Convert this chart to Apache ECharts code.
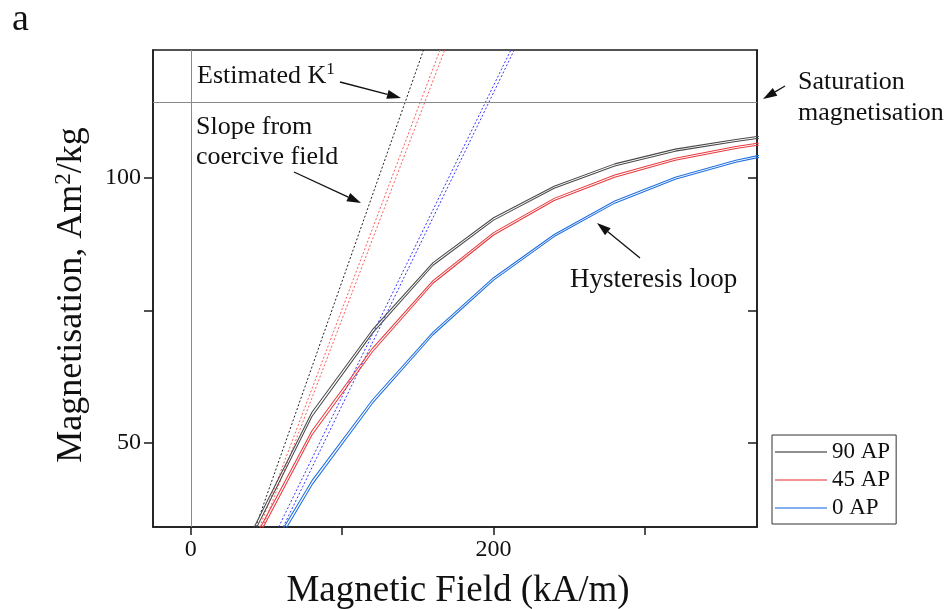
<!DOCTYPE html>
<html>
<head>
<meta charset="utf-8">
<script src="https://cdn.jsdelivr.net/npm/echarts@6/dist/echarts.min.js"></script>
<style>
  html, body { margin: 0; padding: 0; background: #fff; }
  #chart { width: 950px; height: 609px; }
</style>
</head>
<body>
<div id="chart"></div>
<script>
// Applied field (kA/m) at which the loop branches were sampled
const field = [40, 80, 120, 160, 200, 240, 280, 320, 360, 400];

// Magnetisation (Am^2/kg), two branches per sample orientation
const ap90Lower = [32.1, 55.0, 70.7, 83.5, 92.0, 98.0, 102.2, 105.0, 106.8, 108.4];
const ap90Upper = [33.1, 55.8, 71.35, 84.0, 92.45, 98.4, 102.6, 105.38, 107.18, 108.78];
const ap45Lower = [29.9, 51.5, 67.2, 80.1, 89.2, 95.7, 100.1, 103.3, 105.5, 107.2];
const ap45Upper = [30.9, 52.3, 67.85, 80.6, 89.65, 96.1, 100.5, 103.68, 105.88, 107.58];
const ap0Lower  = [22.9, 42.1, 57.5, 70.4, 80.7, 88.9, 95.2, 99.7, 102.9, 105.3];
const ap0Upper  = [23.9, 42.9, 58.15, 70.9, 81.15, 89.3, 95.6, 100.08, 103.28, 105.68];

// Slope lines from the coercive field, [field, magnetisation] end points
const slope90  = [[42.8, 34.17], [153.7, 124.06]];
const slope45a = [[45.5, 34.17], [164.6, 124.06]];
const slope45b = [[47.5, 34.17], [167.7, 124.06]];
const slope0a  = [[58.0, 34.17], [211.4, 124.06]];
const slope0b  = [[61.0, 34.17], [213.6, 124.06]];

const saturation = 114.3;
const seriesNames = ['90 AP', '45 AP', '0 AP'];

const xRange = [-25, 374];
const yRange = [34.17, 124.06];
const xTicks = [0, 100, 200, 300];
const xLabels = [0, 200];
const yTicks = [50, 75, 100];
const yLabels = [50, 100];

const FONT = '"Liberation Serif", "DejaVu Serif", serif';
const INK = '#111';
const colors = { '90 AP': '#4a4a4a', '45 AP': '#e8393c', '0 AP': '#1f6fe0' };
const slopeColors = { '90 AP': '#222222', '45 AP': '#ff5a5a', '0 AP': '#3434ff' };
const legendColors = { '90 AP': '#6a6a6a', '45 AP': '#ee7070', '0 AP': '#5b94e8' };

function branch(name, ys) {
  return {
    name, type: 'line', symbol: 'none', clip: true, z: 3,
    data: field.map((f, i) => [f, ys[i]]),
    lineStyle: { color: colors[name], width: 1.05 },
    itemStyle: { color: legendColors[name] }
  };
}
function slope(name, pts, extra) {
  return Object.assign({
    name, type: 'line', symbol: 'none', clip: true, z: 2,
    data: pts,
    lineStyle: { color: slopeColors[name], width: 1, type: [2, 2] },
    itemStyle: { color: legendColors[name] }
  }, extra || {});
}

function arrow(x1, y1, x2, y2) {
  const a = Math.atan2(y2 - y1, x2 - x1);
  const L = 14, W = 4.5;
  const bx = x2 - L * Math.cos(a), by = y2 - L * Math.sin(a);
  const s = Math.sin(a), c = Math.cos(a);
  return [
    { type: 'line', silent: true, shape: { x1, y1, x2: bx, y2: by },
      style: { stroke: INK, lineWidth: 1.3 } },
    { type: 'polygon', silent: true,
      shape: { points: [[x2, y2], [bx + W * s, by - W * c], [bx - W * s, by + W * c]] },
      style: { fill: INK } }
  ];
}
function label(text, x, y, size, extra) {
  return Object.assign({
    type: 'text', silent: true, x, y,
    style: { text, fill: INK, font: size + 'px ' + FONT, textAlign: 'left', textVerticalAlign: 'middle' }
  }, extra || {});
}

const chart = echarts.init(document.getElementById('chart'), null, { renderer: 'canvas' });

const option = {
  animation: false,
  backgroundColor: '#fff',
  grid: { left: 153, right: 193, top: 50, bottom: 82, show: true,
          borderColor: '#1a1a1a', borderWidth: 1.5, backgroundColor: 'transparent' },
  legend: {
    data: seriesNames,
    orient: 'vertical',
    left: 772, top: 435,
    padding: [5, 6, 4, 3],
    icon: 'rect',
    itemWidth: 52, itemHeight: 1.5, itemGap: 4,
    backgroundColor: '#fff',
    borderColor: '#333', borderWidth: 1, borderRadius: 0,
    textStyle: { fontFamily: FONT, fontSize: 23, color: INK, lineHeight: 24 }
  },
  xAxis: {
    type: 'value', min: xRange[0], max: xRange[1], position: 'bottom',
    axisLine: { show: true, onZero: false, lineStyle: { color: '#1a1a1a', width: 1.5 } },
    axisTick: { show: true, length: 8, customValues: xTicks, lineStyle: { color: '#1a1a1a', width: 1.5 } },
    axisLabel: { customValues: xLabels, fontFamily: FONT, fontSize: 24, color: INK, margin: 11 },
    splitLine: { show: false }
  },
  yAxis: [{
    type: 'value', min: yRange[0], max: yRange[1], position: 'left',
    axisLine: { show: true, onZero: false, lineStyle: { color: '#1a1a1a', width: 1.5 } },
    axisTick: { show: true, length: 9, customValues: yTicks, lineStyle: { color: '#1a1a1a', width: 1.5 } },
    axisLabel: { customValues: yLabels, fontFamily: FONT, fontSize: 24, color: INK, margin: 12 },
    splitLine: { show: false }
  }, {
    type: 'value', min: yRange[0], max: yRange[1], position: 'right',
    axisLine: { show: true, onZero: false, lineStyle: { color: '#1a1a1a', width: 1.5 } },
    axisTick: { show: true, inside: true, length: 9, customValues: yTicks, lineStyle: { color: '#1a1a1a', width: 1.5 } },
    axisLabel: { show: false },
    splitLine: { show: false }
  }],
  series: [
    branch('90 AP', ap90Lower), branch('90 AP', ap90Upper),
    branch('45 AP', ap45Lower), branch('45 AP', ap45Upper),
    branch('0 AP', ap0Lower), branch('0 AP', ap0Upper),
    slope('90 AP', slope90, {
      markLine: {
        silent: true, symbol: 'none', animation: false,
        label: { show: false },
        lineStyle: { color: '#8a8a8a', width: 1, type: 'solid' },
        data: [{ xAxis: 0 }, { yAxis: saturation }]
      }
    }),
    slope('45 AP', slope45a), slope('45 AP', slope45b),
    slope('0 AP', slope0a), slope('0 AP', slope0b)
  ],
  graphic: [
    label('a', 12, 20, 38),
    // axis titles
    { type: 'text', silent: true, x: 458, y: 591,
      style: { text: 'Magnetic Field (kA/m)', fill: INK, font: '37px ' + FONT,
               textAlign: 'center', textVerticalAlign: 'middle' } },
    { type: 'text', silent: true, x: 72, y: 295, rotation: Math.PI / 2,
      style: { text: '{m|Magnetisation, Am}{s|2}{m|/kg}', fill: INK,
               textAlign: 'center', textVerticalAlign: 'middle',
               rich: { m: { font: '36px ' + FONT, fill: INK, lineHeight: 40 },
                       s: { font: '23px ' + FONT, fill: INK, lineHeight: 26, verticalAlign: 'top' } } } },
    // annotations
    { type: 'text', silent: true, x: 197, y: 76,
      style: { text: '{m|Estimated K}{s|1}', fill: INK, textAlign: 'left', textVerticalAlign: 'middle',
               rich: { m: { font: '26px ' + FONT, fill: INK, lineHeight: 30 },
                       s: { font: '17px ' + FONT, fill: INK, lineHeight: 20, verticalAlign: 'top' } } } },
    label('Slope from', 196, 127, 26),
    label('coercive field', 196, 157, 26),
    label('Hysteresis loop', 570, 280, 27),
    label('Saturation', 798, 82, 26),
    label('magnetisation', 798, 113, 26),
    ...arrow(340, 82, 401, 98),
    ...arrow(294, 172, 361, 203),
    ...arrow(640, 258, 597, 223),
    ...arrow(785, 86, 763, 99)
  ]
};

chart.setOption(option);
</script>
</body>
</html>
